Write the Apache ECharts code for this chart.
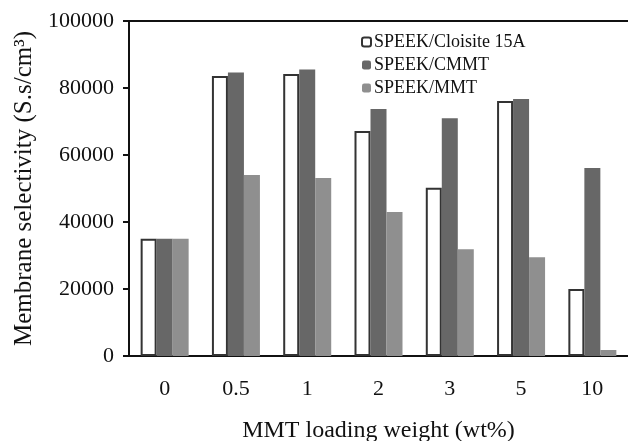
<!DOCTYPE html>
<html>
<head>
<meta charset="UTF-8">
<title></title>
<style>
  html, body { margin: 0; padding: 0; background: #fff; }
  #main { width: 628px; height: 441px; }
</style>
</head>
<body>
<div id="main"></div>
<script src="https://cdn.jsdelivr.net/npm/echarts@6/dist/echarts.min.js"></script>
<script>
var categories = ['0', '0.5', '1', '2', '3', '5', '10'];
var cloisite = [35000, 83600, 84200, 67200, 50200, 76100, 20000];
var cmmt = [35000, 84600, 85500, 73700, 71000, 76700, 56100];
var mmt = [35000, 54000, 53100, 43000, 31900, 29500, 1800];

var font = 'Liberation Serif';
var chart = echarts.init(document.getElementById('main'));

chart.setOption({
  animation: false,
  textStyle: { fontFamily: font, color: '#111' },
  grid: { left: 129, right: 0, top: 21, bottom: 85, outerBoundsMode: 'none', containLabel: false },
  legend: {
    orient: 'vertical',
    left: 356,
    top: 28,
    itemWidth: 9,
    itemHeight: 9,
    itemGap: 5,
    textStyle: { fontFamily: font, fontSize: 18, color: '#111', padding: [0, 0, 0, -2] },
    data: ['SPEEK/Cloisite 15A', 'SPEEK/CMMT', 'SPEEK/MMT']
  },
  xAxis: [{
    type: 'category',
    data: categories,
    name: 'MMT loading weight (wt%)',
    nameLocation: 'middle',
    nameGap: 63,
    nameTextStyle: { fontFamily: font, fontSize: 24, color: '#111' },
    axisLine: { lineStyle: { color: '#111', width: 2 } },
    axisTick: { show: false },
    axisLabel: { fontFamily: font, fontSize: 22, color: '#111', margin: 22 }
  }, {
    type: 'category',
    data: categories,
    position: 'top',
    axisLine: { lineStyle: { color: '#111', width: 2 } },
    axisTick: { show: false },
    axisLabel: { show: false }
  }],
  yAxis: {
    type: 'value',
    min: 0,
    max: 100000,
    interval: 20000,
    name: 'Membrane selectivity (S.s/cm³)',
    nameLocation: 'middle',
    nameGap: 88,
    nameTextStyle: { fontFamily: font, fontSize: 25, color: '#111' },
    axisLine: { show: true, lineStyle: { color: '#111', width: 2 } },
    axisTick: { show: true, length: 6, lineStyle: { color: '#111', width: 2 } },
    axisLabel: {
      fontFamily: font, fontSize: 22, color: '#111', margin: 15,
      formatter: function (v) { return String(v); }
    },
    splitLine: { show: false }
  },
  series: [{
    name: 'SPEEK/Cloisite 15A',
    type: 'bar',
    data: cloisite,
    barWidth: 16,
    barGap: '0%',
    itemStyle: { color: '#fff', borderColor: '#333', borderWidth: 2 }
  }, {
    name: 'SPEEK/CMMT',
    type: 'bar',
    data: cmmt,
    barWidth: 16,
    barGap: '0%',
    itemStyle: { color: '#676767' }
  }, {
    name: 'SPEEK/MMT',
    type: 'bar',
    data: mmt,
    barWidth: 16,
    barGap: '0%',
    itemStyle: { color: '#8f8f8f' }
  }]
});
</script>
</body>
</html>
